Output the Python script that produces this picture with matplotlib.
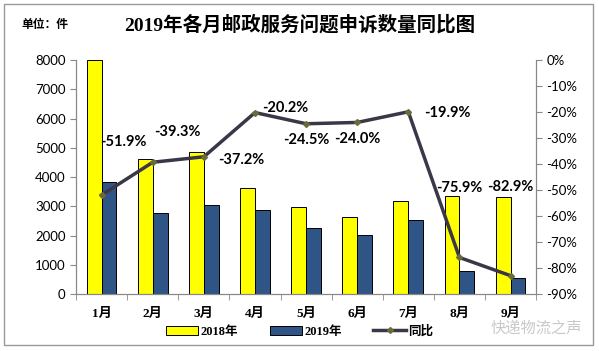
import numpy as np
import matplotlib.pyplot as plt
from matplotlib.patches import Rectangle
from matplotlib.lines import Line2D

plt.rcParams['font.family'] = ['Liberation Serif', 'Noto Sans CJK SC', 'DejaVu Sans']

months = ['1月', '2月', '3月', '4月', '5月', '6月', '7月', '8月', '9月']
n2018 = [7990, 4615, 4845, 3625, 2985, 2620, 3170, 3340, 3305]
n2019 = [3840, 2760, 3030, 2870, 2245, 2005, 2520, 785, 535]
yoy = [-51.9, -39.3, -37.2, -20.2, -24.5, -24.0, -19.9, -75.9, -82.9]

# label offsets (points) for the yoy data labels
offs = [(16, 38), (18, 22), (27, -2), (22, 3), (0, -12), (0, -12), (28, -1), (0, 50), (0, 64)]

num_font = ['Lato', 'DejaVu Sans']

fig = plt.figure(figsize=(5.99, 3.51), dpi=100)
ax = fig.add_axes([0.127, 0.162, 0.768, 0.667])
x = np.arange(len(months))
w = 0.29
ax.bar(x - w / 2, n2018, w, color='#FFFF00', edgecolor='black', linewidth=0.7, zorder=2)
ax.bar(x + w / 2, n2019, w, color='#2F5486', edgecolor='black', linewidth=0.7, zorder=2)
ax.set_xlim(-0.5, len(months) - 0.5)
ax.set_ylim(0, 8000)
ax.set_yticks(range(0, 8001, 1000))
ax.set_yticklabels([str(v) for v in range(0, 8001, 1000)], family=num_font, fontsize=9.5)
ax.set_xticks(x)
ax.set_xticklabels(months, fontsize=9.5, fontweight='bold')
ax.set_xticks(np.arange(-0.5, len(months), 1), minor=True)
ax.tick_params(axis='x', which='major', length=0, pad=10)
ax.tick_params(axis='x', which='minor', length=4, color='#888888')
ax.tick_params(axis='y', length=4, color='#888888')
for s in ['left', 'bottom', 'right']:
    ax.spines[s].set_color('#888888')
ax.spines['top'].set_visible(False)

ax2 = ax.twinx()
ax2.plot(x, yoy, color='#3A3848', linewidth=2.5, marker='D', markersize=3,
         markerfacecolor='#6B6B3A', markeredgecolor='#6B6B3A', zorder=3)
ax2.set_ylim(-90, 0)
ax2.set_yticks(range(-90, 1, 10))
ax2.set_yticklabels(['%d%%' % v for v in range(-90, 1, 10)], family=num_font, fontsize=9.5)
ax2.tick_params(axis='y', length=4, color='#888888')
for s in ['left', 'bottom', 'right']:
    ax2.spines[s].set_color('#888888')
ax2.spines['top'].set_visible(False)
for i, v in enumerate(yoy):
    ax2.annotate('%.1f%%' % v, (x[i], v), xytext=offs[i], textcoords='offset points',
                 ha='center', va='center', fontsize=10.5, fontweight='bold', family=num_font)

fig.text(0.5, 0.93, '2019年各月邮政服务问题申诉数量同比图', ha='center', va='center',
         fontsize=14, fontweight='bold')
fig.text(0.035, 0.93, '单位：件', ha='left', va='center', fontsize=8.5, fontweight='bold',
         family=['Noto Sans CJK SC'])

handles = [Rectangle((0, 0), 1, 1, facecolor='#FFFF00', edgecolor='black', linewidth=0.7),
           Rectangle((0, 0), 1, 1, facecolor='#2F5486', edgecolor='black', linewidth=0.7),
           Line2D([], [], color='#3A3848', linewidth=2.5, marker='D', markersize=3,
                  markerfacecolor='#6B6B3A', markeredgecolor='#6B6B3A')]
fig.legend(handles, ['2018年', '2019年', '同比'], loc='center', bbox_to_anchor=(0.5, 0.055),
           ncol=3, frameon=False, handlelength=2.6, handleheight=0.7, columnspacing=2.5,
           handletextpad=0.2, prop={'size': 9, 'weight': 'bold'})

fig.text(0.895, 0.065, '快递物流之声', ha='center', va='center', fontsize=11,
         color='#C8C8C8', family=['Noto Sans CJK SC'])

fig.patches.append(Rectangle((0.007, 0.018), 0.983, 0.97, transform=fig.transFigure,
                             fill=False, edgecolor='#999999', linewidth=1))

fig.savefig('out.png', dpi=100)
